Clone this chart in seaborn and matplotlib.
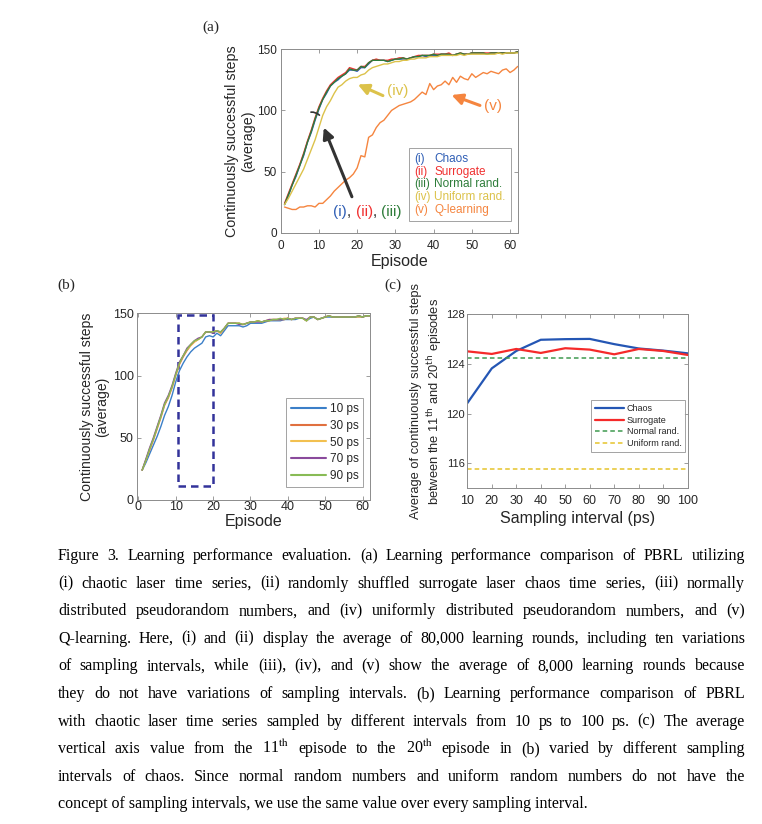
import numpy as np
import pandas as pd
import matplotlib
matplotlib.use('Agg')
import matplotlib.pyplot as plt
import seaborn as sns
from matplotlib.patches import Rectangle

# ---------------- data: panel (a) ----------------
episodes = list(range(1, 63))
chaos_a = [23, 30, 39, 46, 55, 63, 74, 82, 92, 101, 109, 114, 120, 123, 125, 128, 130, 133, 133, 132,
           135, 135, 138, 141, 141, 141, 141, 140, 141, 142, 142, 142, 142, 143, 144, 144, 145, 144, 145, 145,
           145, 146, 146, 146, 145, 146, 146, 146, 146, 147, 147, 147, 147, 146, 147, 147, 147, 147, 147, 147,
           147, 148]
surrogate_a = [24, 32, 40, 48, 56, 65, 75, 84, 94, 103, 110, 116, 121, 124, 127, 129, 131, 135, 134, 133,
               136, 136, 139, 141, 142, 141, 141, 141, 142, 142, 143, 143, 142, 143, 144, 145, 145, 145, 145, 146,
               146, 146, 146, 147, 145, 146, 147, 146, 146, 147, 147, 147, 147, 147, 147, 147, 147, 147, 147, 147,
               147, 148]
normal_a = [23, 31, 39, 47, 55, 64, 74, 83, 93, 102, 109, 115, 120, 123, 126, 128, 130, 134, 133, 133,
            136, 135, 139, 141, 141, 141, 141, 140, 141, 142, 142, 143, 142, 143, 144, 144, 145, 145, 145, 146,
            145, 146, 146, 146, 145, 146, 147, 146, 146, 147, 147, 147, 147, 146, 147, 147, 147, 147, 147, 147,
            147, 148]
uniform_a = [23, 28, 34, 40, 46, 52, 60, 68, 76, 86, 96, 103, 108, 114, 119, 121, 124, 126, 127, 127,
             129, 130, 133, 135, 136, 137, 138, 138, 139, 140, 140, 141, 141, 142, 142, 143, 143, 143, 144, 144,
             144, 145, 145, 145, 145, 145, 146, 145, 146, 146, 146, 146, 146, 146, 146, 146, 147, 146, 147, 147,
             147, 147]
qlearn_a = [21, 20, 19, 19, 21, 21, 22, 22, 21, 24, 24, 27, 30, 34, 37, 40, 43, 45, 48, 53,
            63, 62, 78, 80, 86, 90, 92, 96, 100, 102, 104, 105, 106, 107, 109, 112, 115, 113, 122, 117,
            120, 121, 124, 121, 127, 123, 128, 126, 125, 130, 127, 129, 131, 130, 132, 131, 130, 133, 134, 131,
            133, 136]
numerals_a = ['(i)', '(ii)', '(iii)', '(iv)', '(v)']
names_a = ['Chaos', 'Surrogate', 'Normal rand.', 'Uniform rand.', 'Q-learning']

# ---------------- data: panel (b) ----------------
b_10ps = [24, 30, 37, 44, 51, 59, 68, 75, 84, 95, 104, 110, 115, 119, 122, 124, 126, 131, 132, 131,
          134, 132, 136, 140, 140, 140, 140, 139, 140, 142, 142, 142, 142, 143, 144, 144, 144, 144, 145, 145,
          145, 145, 146, 146, 144, 146, 147, 145, 146, 147, 147, 147, 147, 147, 147, 147, 147, 147, 147, 147,
          148, 148]
b_30ps = [24, 32, 40, 48, 57, 66, 76, 82, 90, 100, 109, 115, 120, 124, 127, 129, 131, 135, 135, 135,
          136, 134, 138, 142, 142, 142, 142, 141, 142, 143, 143, 144, 143, 144, 144, 145, 145, 145, 145, 146,
          145, 146, 146, 146, 144, 147, 147, 145, 146, 147, 148, 147, 147, 147, 147, 147, 147, 147, 148, 147,
          148, 148]
b_50ps = [24, 32, 41, 49, 58, 67, 77, 83, 91, 101, 110, 116, 121, 124, 127, 129, 131, 135, 135, 135,
          136, 134, 138, 142, 142, 142, 142, 141, 142, 143, 143, 144, 143, 144, 145, 145, 145, 145, 146, 146,
          145, 146, 146, 146, 144, 147, 147, 145, 146, 147, 148, 147, 147, 147, 147, 147, 147, 147, 147, 147,
          148, 148]
b_70ps = [24, 33, 42, 50, 59, 68, 78, 84, 92, 102, 111, 116, 122, 125, 128, 130, 131, 135, 135, 134,
          136, 135, 138, 142, 142, 142, 141, 141, 142, 143, 143, 143, 143, 144, 145, 145, 145, 145, 145, 146,
          145, 146, 146, 146, 145, 147, 147, 145, 146, 147, 148, 147, 147, 147, 147, 147, 147, 147, 148, 147,
          148, 148]
b_90ps = [24, 32, 41, 49, 58, 67, 77, 83, 91, 101, 110, 116, 121, 125, 128, 129, 131, 135, 135, 135,
          136, 135, 138, 142, 142, 142, 142, 141, 142, 143, 143, 144, 143, 144, 144, 145, 145, 146, 145, 146,
          145, 146, 146, 146, 144, 147, 147, 145, 146, 147, 148, 147, 147, 147, 147, 147, 147, 147, 148, 147,
          148, 148]
labels_b = ['10 ps', '30 ps', '50 ps', '70 ps', '90 ps']

# ---------------- data: panel (c) ----------------
intervals = [10, 20, 30, 40, 50, 60, 70, 80, 90, 100]
chaos_c = [120.85, 123.65, 125.05, 125.95, 126.0, 126.02, 125.6, 125.25, 125.08, 124.86]
surrogate_c = [125.02, 124.81, 125.21, 124.89, 125.27, 125.16, 124.78, 125.21, 125.05, 124.73]
normal_c = 124.51
uniform_c = 115.59

caption = [
    "Figure 3. Learning performance evaluation. (a) Learning performance comparison of PBRL utilizing",
    "(i) chaotic laser time series, (ii) randomly shuffled surrogate laser chaos time series, (iii) normally",
    "distributed pseudorandom numbers, and (iv) uniformly distributed pseudorandom numbers, and (v)",
    "Q-learning. Here, (i) and (ii) display the average of 80,000 learning rounds, including ten variations",
    "of sampling intervals, while (iii), (iv), and (v) show the average of 8,000 learning rounds because",
    "they do not have variations of sampling intervals. (b) Learning performance comparison of PBRL",
    "with chaotic laser time series sampled by different intervals from 10 ps to 100 ps. (c) The average",
    r"vertical axis value from the 11$^{\mathrm{th}}$ episode to the 20$^{\mathrm{th}}$ episode in (b) varied by different sampling",
    "intervals of chaos. Since normal random numbers and uniform random numbers do not have the",
    "concept of sampling intervals, we use the same value over every sampling interval.",
]

# ---------------- style ----------------
sns.set_style('ticks')
plt.rcParams['font.family'] = ['Liberation Sans', 'DejaVu Sans']
plt.rcParams['axes.edgecolor'] = '#8c8c8c'
plt.rcParams['axes.linewidth'] = 0.7
plt.rcParams['text.color'] = '#262626'
plt.rcParams['axes.labelcolor'] = '#262626'
plt.rcParams['xtick.color'] = '#262626'
plt.rcParams['ytick.color'] = '#262626'

cols_a = ['#2f5eb5', '#f03030', '#2e7d3a', '#dcc24a', '#f5853f']
cols_b = ['#3b7fc8', '#e0703f', '#f2c050', '#8a4a9c', '#88bb55']
serif = ['Liberation Serif', 'DejaVu Serif']

W, H = 762, 824
fig = plt.figure(figsize=(W / 100, H / 100), dpi=100)


def rect(l, t, r, b):
    return [l / W, 1 - b / H, (r - l) / W, (b - t) / H]


def matlab_box(ax, lsize, pad_x, pad_y):
    ax.tick_params(direction='in', top=True, right=True, length=3, width=0.6,
                   labelsize=lsize, colors='#262626')
    ax.tick_params(axis='both', color='#8c8c8c')
    ax.tick_params(axis='x', pad=pad_x)
    ax.tick_params(axis='y', pad=pad_y)
    for s in ax.spines.values():
        s.set_visible(True)


# ---------------- panel (a) ----------------
ax_a = fig.add_axes(rect(280.7, 49.3, 517.7, 232.7))
df_a = pd.DataFrame({'Episode': episodes, 'chaos': chaos_a, 'surrogate': surrogate_a,
                     'normal': normal_a, 'uniform': uniform_a, 'qlearn': qlearn_a})
for key, c in zip(['chaos', 'surrogate', 'normal', 'uniform', 'qlearn'], cols_a):
    sns.lineplot(data=df_a, x='Episode', y=key, color=c, lw=1.0, ax=ax_a)
ax_a.set_xlim(0, 62)
ax_a.set_ylim(0, 150)
ax_a.set_xticks(range(0, 61, 10))
ax_a.set_yticks([0, 50, 100, 150])
matlab_box(ax_a, 8.5, 5, 2.5)
ax_a.set_xlabel('Episode', fontsize=11.5)
ax_a.set_ylabel('Continuously successful steps\n(average)', fontsize=10.3, linespacing=1.15)
ax_a.xaxis.set_label_coords(0.5, -0.115)
ax_a.yaxis.set_label_coords(-0.11, 0.5)

# legend: names in a column, numerals put in front of them
leg = ax_a.legend(ax_a.get_lines()[:5], names_a, loc='lower right', bbox_to_anchor=(0.9705, 0.064),
                  borderaxespad=0, handlelength=1.7, handletextpad=0, fontsize=8.5, labelspacing=0.06,
                  frameon=True, fancybox=False, edgecolor='#8c8c8c', borderpad=0.45)
leg.get_frame().set_linewidth(0.7)
for h in leg.legend_handles:
    h.set_visible(False)
for t, num, c in zip(leg.get_texts(), numerals_a, cols_a):
    t.set_color(c)
    ax_a.annotate(num, xy=(0, 0), xycoords=t, xytext=(-14.4, 0), textcoords='offset points',
                  ha='left', va='bottom', color=c, fontsize=8.5, zorder=6)

# arrows and labels
ax_a.annotate('', xy=(19.5, 122.2), xytext=(27.4, 111.2),
              arrowprops=dict(arrowstyle='-|>', color=cols_a[3], lw=2.2, mutation_scale=16))
ax_a.text(30.6, 116.2, '(iv)', color=cols_a[3], fontsize=11, ha='center', va='center')
ax_a.annotate('', xy=(44.0, 113.4), xytext=(52.8, 103.3),
              arrowprops=dict(arrowstyle='-|>', color=cols_a[4], lw=2.2, mutation_scale=16))
ax_a.text(55.6, 103.6, '(v)', color=cols_a[4], fontsize=11, ha='center', va='center')
ax_a.annotate('', xy=(11.0, 88.1), xytext=(18.9, 27.3),
              arrowprops=dict(arrowstyle='-|>', color='#333333', lw=2.2, mutation_scale=16))
ax_a.annotate('', xy=(10.6, 94.4), xytext=(7.2, 98.2),
              arrowprops=dict(arrowstyle='-', color='#333333', lw=1.2,
                              connectionstyle='arc3,rad=-0.35'))
t = ax_a.text(13.8, 17.2, '(i)', color=cols_a[0], fontsize=11, va='center')
for s, c in [(', ', '#262626'), ('(ii)', cols_a[1]), (', ', '#262626'), ('(iii)', cols_a[2])]:
    t = ax_a.annotate(s, xy=(1, 0), xycoords=t, va='bottom', color=c, fontsize=11)

# ---------------- panel (b) ----------------
ax_b = fig.add_axes(rect(137.3, 313.3, 370.0, 500.0))
df_b = pd.DataFrame({'Episode': episodes, labels_b[0]: b_10ps, labels_b[1]: b_30ps,
                     labels_b[2]: b_50ps, labels_b[3]: b_70ps, labels_b[4]: b_90ps})
df_b = df_b.melt(id_vars='Episode', var_name='Interval', value_name='Steps')
sns.lineplot(data=df_b, x='Episode', y='Steps', hue='Interval', palette=cols_b, lw=1.0, ax=ax_b)
ax_b.add_patch(Rectangle((10.5, 11), 9.5, 137.5, fill=False, ec='#33339a', lw=1.8,
                         ls=(0, (3, 2))))
ax_b.set_xlim(-0.3, 62)
ax_b.set_ylim(0, 150)
ax_b.set_xticks(range(0, 61, 10))
ax_b.set_yticks([0, 50, 100, 150])
matlab_box(ax_b, 9, 1, 2.5)
ax_b.set_xlabel('Episode', fontsize=11.5)
ax_b.set_ylabel('Continuously successful steps\n(average)', fontsize=10.1, linespacing=1.15)
ax_b.xaxis.set_label_coords(0.5, -0.075)
ax_b.yaxis.set_label_coords(-0.12, 0.5)
leg_b = ax_b.legend(loc='lower right', bbox_to_anchor=(0.971, 0.071), borderaxespad=0,
                    handlelength=3.0, handletextpad=0.3, fontsize=8.5, labelspacing=0.4,
                    frameon=True, fancybox=False, edgecolor='#8c8c8c', borderpad=0.4)
leg_b.get_frame().set_linewidth(0.7)
for h in leg_b.legend_handles:
    h.set_linewidth(1.5)

# ---------------- panel (c) ----------------
ax_c = fig.add_axes(rect(467.3, 314.3, 687.7, 488.3))
sns.lineplot(x=intervals, y=chaos_c, color='#2456b4', lw=1.6, label='Chaos', ax=ax_c)
sns.lineplot(x=intervals, y=surrogate_c, color='#f52a2a', lw=1.6, label='Surrogate', ax=ax_c)
sns.lineplot(x=intervals, y=[normal_c] * len(intervals), color='#3f9a4f', lw=1.1,
             label='Normal rand.', ax=ax_c)
sns.lineplot(x=intervals, y=[uniform_c] * len(intervals), color='#e5c32b', lw=1.1,
             label='Uniform rand.', ax=ax_c)
ax_c.get_lines()[2].set_linestyle((0, (3, 2)))
ax_c.get_lines()[3].set_linestyle((0, (3, 2)))
ax_c.set_xlim(10, 100)
ax_c.set_ylim(114, 128)
ax_c.set_xticks(intervals)
ax_c.set_yticks([116, 120, 124, 128])
matlab_box(ax_c, 9, 5, 2)
ax_c.tick_params(axis='y', labelsize=8)
ax_c.set_xlabel('Sampling interval (ps)', fontsize=11.5)
ax_c.set_ylabel('Average of continuously successful steps\n'
                r'between the 11$^{\mathrm{th}}$ and 20$^{\mathrm{th}}$ episodes',
                fontsize=9.3, linespacing=1.25)
ax_c.xaxis.set_label_coords(0.5, -0.13)
ax_c.yaxis.set_label_coords(-0.105, 0.5)
leg_c = ax_c.legend(loc='lower right', bbox_to_anchor=(0.988, 0.21), borderaxespad=0,
                    handlelength=3.2, handletextpad=0.3, fontsize=6.5, labelspacing=0.3,
                    frameon=True, fancybox=False, edgecolor='#8c8c8c', borderpad=0.4)
leg_c.get_frame().set_linewidth(0.7)

# ---------------- panel letters ----------------
fig.text(211 / W, 1 - 27 / H, '(a)', family=serif, fontsize=11, ha='center', va='center')
fig.text(66 / W, 1 - 285 / H, '(b)', family=serif, fontsize=11, ha='center', va='center')
fig.text(393 / W, 1 - 285 / H, '(c)', family=serif, fontsize=11, ha='center', va='center')

# ---------------- caption (justified) ----------------
renderer = fig.canvas.get_renderer()
x_left, x_right = 58, 745
cap_size = 11.5
for i, line in enumerate(caption):
    y = 1 - (560 + i * 27.6) / H
    if i == len(caption) - 1:
        fig.text(x_left / W, y, line, family=serif, math_fontfamily='stix', fontsize=cap_size,
                 va='baseline', color='black')
        continue
    words = line.split(' ')
    arts = [fig.text(0, y, w, family=serif, math_fontfamily='stix', fontsize=cap_size,
                     va='baseline', color='black') for w in words]
    widths = [a.get_window_extent(renderer).width for a in arts]
    gap = ((x_right - x_left) - sum(widths)) / (len(words) - 1)
    x = x_left
    for a, w in zip(arts, widths):
        a.set_x(x / W)
        x += w + gap

fig.savefig('out.png', dpi=100)
